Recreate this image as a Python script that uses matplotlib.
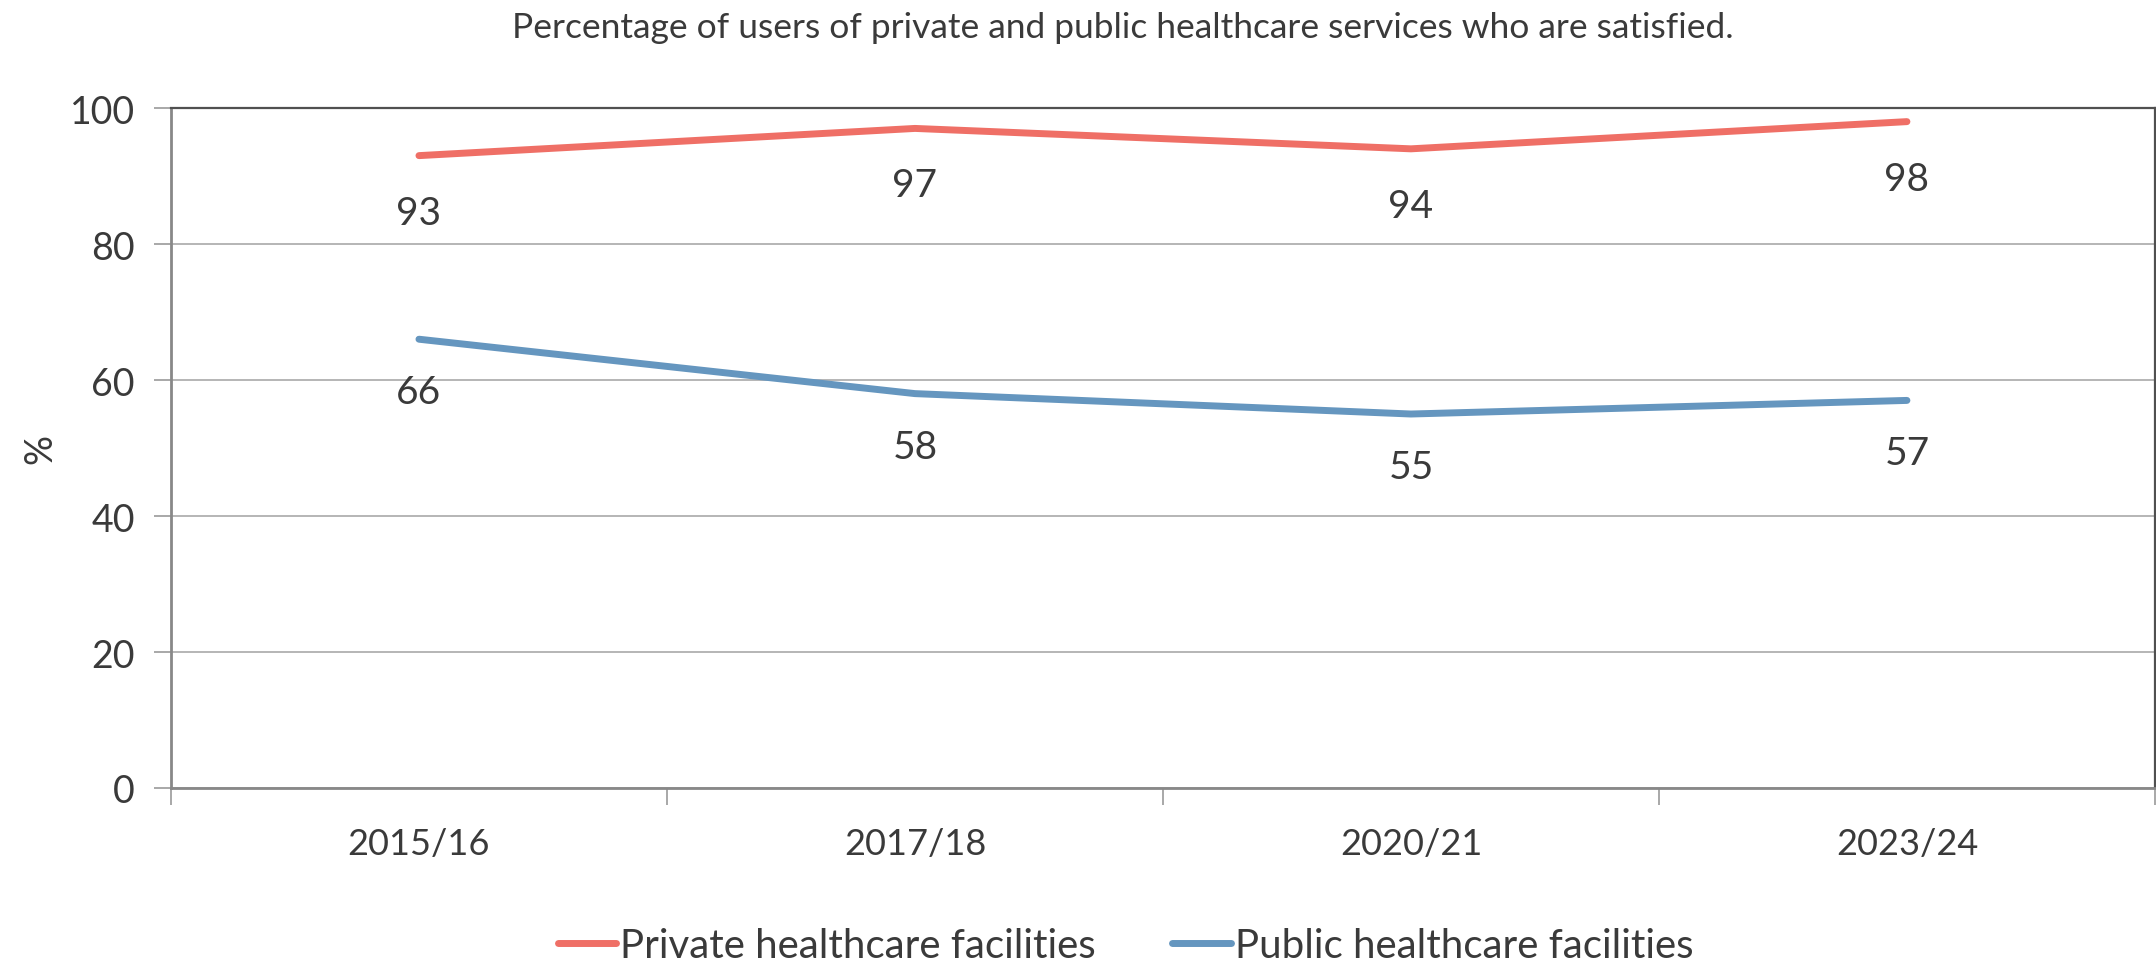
import matplotlib
matplotlib.use("Agg")
import matplotlib.pyplot as plt
import numpy as np

# satisfaction survey results, % of users satisfied
periods = ["2015/16", "2017/18", "2020/21", "2023/24"]
private_vals = [93, 97, 94, 98]
public_vals = [66, 58, 55, 57]

series_names = ["Private healthcare facilities", "Public healthcare facilities"]
red = "#EF6F66"
blue = "#6596BF"
text_col = "#3a3a3a"

plt.rcParams["font.family"] = ["Lato", "DejaVu Sans"]

fig = plt.figure(figsize=(21.56, 9.70), dpi=100)
ax = fig.add_axes([0.0793, 0.1866, 0.9202, 0.7010])

x = np.arange(len(periods)) + 0.5
ax.plot(x, private_vals, color=red, lw=5, solid_capstyle="round", label=series_names[0], zorder=3)
ax.plot(x, public_vals, color=blue, lw=5, solid_capstyle="round", label=series_names[1], zorder=3)

# value labels sit under each point
for xi, v in zip(x, private_vals):
    ax.annotate(str(v), (xi, v), xytext=(0, -57), textcoords="offset pixels",
                ha="center", va="center", fontsize=28, color=text_col)
for xi, v in zip(x, public_vals):
    ax.annotate(str(v), (xi, v), xytext=(0, -53), textcoords="offset pixels",
                ha="center", va="center", fontsize=28, color=text_col)

ax.set_xlim(0, len(periods))
ax.set_ylim(0, 100)
ax.set_yticks([0, 20, 40, 60, 80, 100])
ax.set_xticks(np.arange(len(periods) + 1))
ax.set_xticklabels([])
ax.set_xticks(x, minor=True)
ax.set_xticklabels(periods, minor=True)
ax.tick_params(axis="x", which="minor", length=0, pad=28, labelsize=26, labelcolor=text_col)
ax.tick_params(axis="x", which="major", length=12, width=1.2, color="#999999", direction="out")
ax.tick_params(axis="y", length=12, width=1.2, color="#999999", pad=14, labelsize=27, labelcolor=text_col)

ax.grid(axis="y", color="#b0b0b0", lw=1.3)
ax.set_axisbelow(True)
for side in ["left", "bottom"]:
    ax.spines[side].set_color("#888888")
    ax.spines[side].set_linewidth(2)
for side in ["top", "right"]:
    ax.spines[side].set_color("#505050")
    ax.spines[side].set_linewidth(1.6)

ax.set_ylabel("%", fontsize=27, color=text_col)
ax.yaxis.set_label_coords(-0.057, 0.5)

fig.text(0.521, 0.971, "Percentage of users of private and public healthcare services who are satisfied.",
         ha="center", va="center", fontsize=25.5, color=text_col)

fig.legend(loc="center", bbox_to_anchor=(0.522, 0.024), ncol=2, frameon=False,
           fontsize=29, handlelength=1.45, handletextpad=0.1, columnspacing=1.9,
           labelcolor=text_col)

fig.savefig("out.png", dpi=100, facecolor="white")
